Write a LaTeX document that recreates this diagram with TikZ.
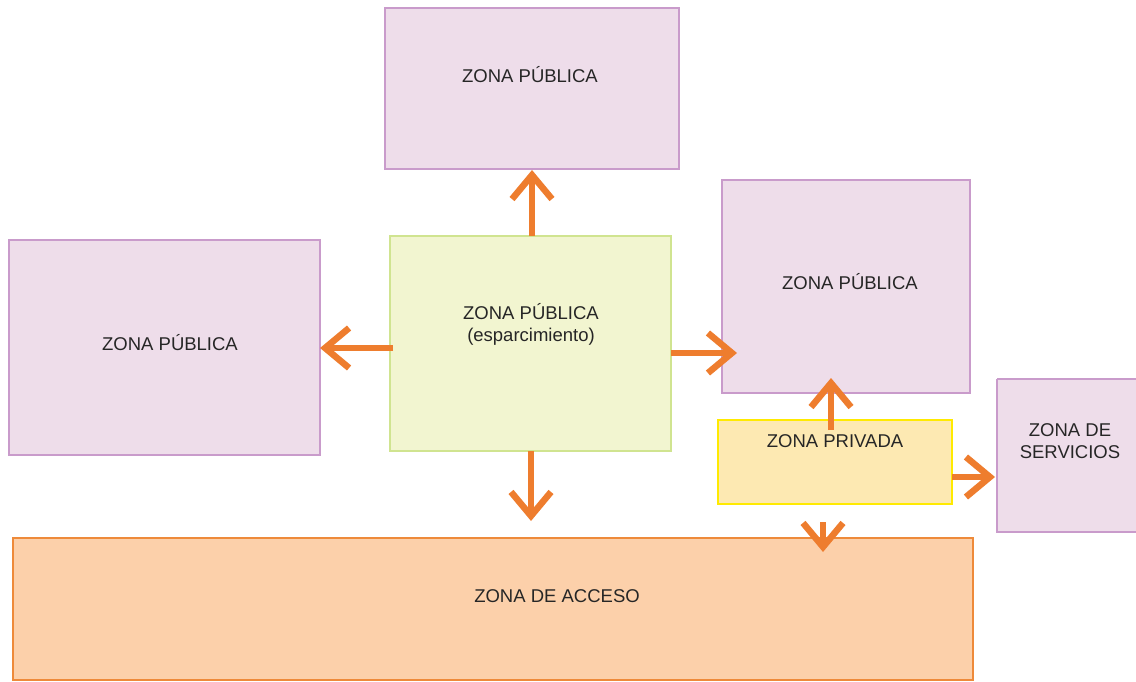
\documentclass[tikz,border=0pt]{standalone}
\usepackage{fontspec}
\setmainfont{Liberation Sans}
\usetikzlibrary{arrows.meta}
\definecolor{pinkfill}{HTML}{EEDDEA}
\definecolor{pinkline}{HTML}{C99BCB}
\definecolor{greenfill}{HTML}{F2F5D0}
\definecolor{greenline}{HTML}{D0E490}
\definecolor{yellowfill}{HTML}{FDE9B2}
\definecolor{yellowline}{HTML}{FFEA00}
\definecolor{accfill}{HTML}{FCD0AA}
\definecolor{accline}{HTML}{EE8A3A}
\definecolor{arr}{HTML}{EE7D2E}
\tikzset{
  zbox/.style={draw=pinkline, fill=pinkfill, line width=1.8pt},
  gbox/.style={draw=greenline, fill=greenfill, line width=1.8pt},
  ybox/.style={draw=yellowline, fill=yellowfill, line width=1.8pt},
  abox/.style={draw=accline, fill=accfill, line width=1.8pt},
  lbl/.style={font=\fontsize{18.5}{22}\selectfont, align=center, text=black!85},
  flow/.style={draw=arr, line width=6.5pt, -{Straight Barb[length=24pt,width=40pt,line width=6.5pt]}}
}
\begin{document}
\begin{tikzpicture}[x=1pt,y=-1pt]
\useasboundingbox (0,0) rectangle (1136,682);
% boxes
\draw[zbox] (385,8) rectangle (679,169);
\node[lbl] (top) at (530,75) {ZONA PÚBLICA};
\draw[zbox] (9,240) rectangle (320,455);
\node[lbl] (left) at (170,343) {ZONA PÚBLICA};
\draw[zbox] (722,180) rectangle (970,393);
\node[lbl] (right) at (850,282) {ZONA PÚBLICA};
\draw[zbox] (997,379) -- (1140,379) (1140,532) -- (997,532) -- (997,379);
\fill[pinkfill] (998,380) rectangle (1136,531);
\node[lbl] (serv) at (1070,441) {ZONA DE\\SERVICIOS};
\draw[gbox] (390,236) rectangle (671,451);
\node[lbl] (center) at (531,324) {ZONA PÚBLICA\\(esparcimiento)};
\draw[ybox] (718,420) rectangle (952,504);
\node[lbl] (priv) at (835,441) {ZONA PRIVADA};
\draw[abox] (13,538) rectangle (973,680);
\node[lbl] (acc) at (557,596) {ZONA DE ACCESO};
% anchor coordinates
\coordinate (cT) at (532,236);
\coordinate (tB) at (532,170);
\coordinate (cL) at (393,348);
\coordinate (lR) at (320,348);
\coordinate (cR) at (671,353);
\coordinate (rL) at (737,353);
\coordinate (cB) at (531,451);
\coordinate (aT) at (531,521);
\coordinate (pT) at (831,430);
\coordinate (rB) at (831,378);
\coordinate (pR) at (952,477);
\coordinate (sL) at (995,477);
\coordinate (pB) at (823,522);
\coordinate (aT2) at (823,552);
% arrows
\draw[flow] (cT) -- (tB);
\draw[flow] (cL) -- (lR);
\draw[flow] (cR) -- (rL);
\draw[flow] (cB) -- (aT);
\draw[flow] (pT) -- (rB);
\draw[flow] (pR) -- (sL);
\draw[flow] (pB) -- (aT2);
\end{tikzpicture}
\end{document}
